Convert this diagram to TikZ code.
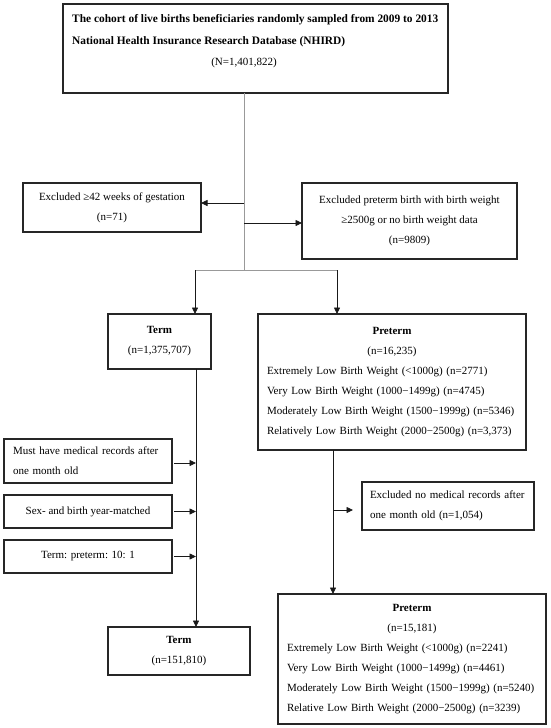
\documentclass[tikz,border=0pt]{standalone}
\usepackage{fontspec}
\setmainfont{Liberation Serif}
\usetikzlibrary{arrows.meta}
\begin{document}
\begin{tikzpicture}[x=1pt,y=-1pt,
  box/.style={draw=black!85, line width=1.1pt, inner sep=0pt, outer sep=0pt, anchor=north west, font=\fontsize{11}{20}\selectfont},
  txt/.style={inner sep=0pt, font=\fontsize{11}{20}\selectfont},
  toptxt/.style={inner sep=0pt, font=\fontsize{11.4}{20}\selectfont\bfseries},
  trunk/.style={draw=black!40, line width=0.8pt},
  arr/.style={draw=black!90, line width=0.8pt, -{Triangle[length=6.5pt,width=6pt]}}]
\useasboundingbox[fill=white] (0,0) rectangle (550,728);
% boxes
\node[box, minimum width=385pt, minimum height=89pt] (top) at (63,4) {};
\node[toptxt, anchor=base west] (t1) at (72,23) {The cohort of live births beneficiaries randomly sampled from 2009 to 2013};
\node[toptxt, anchor=base west] (t2) at (72,44) {National Health Insurance Research Database (NHIRD)};
\node[txt, anchor=base] (t3) at (244,65) {(N=1,401,822)};

\node[box, minimum width=178pt, minimum height=49pt, align=center] (ex42) at (23,183) {Excluded ≥42 weeks of gestation\\(n=71)};
\node[box, minimum width=215pt, minimum height=76pt, align=center] (expre) at (302,183) {Excluded preterm birth with birth weight\\≥2500g or no birth weight data\\(n=9809)};

\node[box, minimum width=103pt, minimum height=55pt, align=center] (term1) at (108,314) {\textbf{Term}\\(n=1,375,707)};
\node[box, minimum width=268pt, minimum height=136pt, text width=250pt, align=left] (pre1) at (258,314) {{\centering\textbf{Preterm}\\(n=16,235)\par}Extremely Low Birth Weight (<1000g) (n=2771)\\Very Low Birth Weight (1000−1499g) (n=4745)\\Moderately Low Birth Weight (1500−1999g) (n=5346)\\Relatively Low Birth Weight (2000−2500g) (n=3,373)};

\node[box, minimum width=168pt, minimum height=44pt, text width=150pt, align=left] (must) at (4,439) {Must have medical records after\\one month old};
\node[box, minimum width=168pt, minimum height=33pt, align=center] (sex) at (4,495) {Sex- and birth year-matched};
\node[box, minimum width=168pt, minimum height=33pt, align=center] (ratio) at (4,540) {Term: preterm: 10: 1};

\node[box, minimum width=172pt, minimum height=48pt, text width=156pt, align=left] (exno) at (362,482) {Excluded no medical records after\\one month old (n=1,054)};

\node[box, minimum width=142pt, minimum height=48pt, align=center] (term2) at (108,627) {\textbf{Term}\\(n=151,810)};
\node[box, minimum width=268pt, minimum height=130pt, text width=250pt, align=left] (pre2) at (278,594) {{\centering\textbf{Preterm}\\(n=15,181)\par}Extremely Low Birth Weight (<1000g) (n=2241)\\Very Low Birth Weight (1000−1499g) (n=4461)\\Moderately Low Birth Weight (1500−1999g) (n=5240)\\Relative Low Birth Weight (2000−2500g) (n=3239)};

% coordinates
\coordinate (s) at (244,270);
\coordinate (sl) at (195,270);
\coordinate (sr) at (337,270);
\coordinate (a1) at (244,203);
\coordinate (a2) at (244,223);
\coordinate (tl) at (196,400);
\coordinate (pl) at (333,500);
\coordinate (pa) at (333,510);
\coordinate (ma) at (174,463);

% connectors
\draw[trunk] (top.south -| s) -- (s);
\draw[trunk] (sl) -- (sr);
\draw[arr] (a1) -- (a1 -| ex42.east);
\draw[arr] (a2) -- (a2 -| expre.west);
\draw[arr] (sl) -- (sl |- term1.north);
\draw[arr] (sr) -- (sr |- pre1.north);
\draw[arr] (term1.south -| tl) -- (tl |- term2.north);
\draw[arr] (ma) -- (ma -| tl);
\draw[arr] ([xshift=2pt]sex.east) -- (sex.east -| tl);
\draw[arr] ([xshift=2pt]ratio.east) -- (ratio.east -| tl);
\draw[arr] (pre1.south -| pl) -- (pl |- pre2.north);
\draw[arr, shorten >=9pt] (pa) -- (pa -| exno.west);
\end{tikzpicture}
\end{document}
